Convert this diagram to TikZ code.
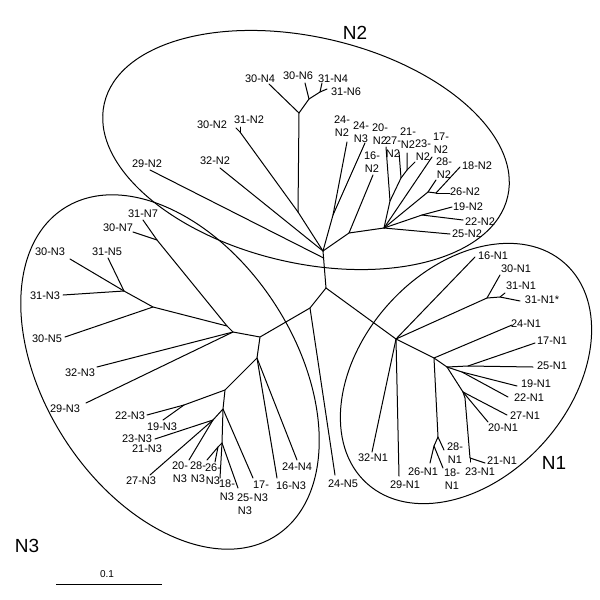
\documentclass[tikz,border=0pt]{standalone}
\usepackage{fontspec}
\setmainfont{Liberation Sans}
\begin{document}
\begin{tikzpicture}[x=1pt,y=-1pt,
  br/.style={line width=1pt, line cap=round, line join=round},
  grp/.style={line width=1pt},
  lab/.style={font=\fontsize{11}{13}\selectfont, inner sep=0pt, align=center},
  ttl/.style={font=\fontsize{19}{20}\selectfont, inner sep=0pt}]
\useasboundingbox (0,0) rectangle (600,600);
% ---------- group outlines ----------
\draw[grp, rotate around={-13:(306,150)}] (306,150) ellipse [x radius=207, y radius=113];
\draw[grp, rotate around={-57:(170,372)}] (170,372) ellipse [x radius=195, y radius=125];
\draw[grp, rotate around={48:(466,373.5)}] (466,373.5) ellipse [x radius=148, y radius=104];
\node[ttl] (tN2) at (355,33) {N2};
\node[ttl] (tN1) at (554,463) {N1};
\node[ttl] (tN3) at (27,546) {N3};
% ---------- coordinates ----------
\coordinate (C1) at (323,251);
\coordinate (C1b) at (323.6,258);
\coordinate (C2) at (326,288);
% N2 clade
\coordinate (X) at (298,212);
\coordinate (n31N2) at (240,132);
\coordinate (t30N2) at (236,128);
\coordinate (t31N2) at (240,127);
\coordinate (S4) at (299,113);
\coordinate (t30N4) at (269,84);
\coordinate (S6) at (309,99);
\coordinate (t30N6) at (305,83);
\coordinate (S7) at (320,92);
\coordinate (t31N4) at (322,83);
\coordinate (t31N6) at (327,89);
\coordinate (t32N2) at (220,168);
\coordinate (t29N2) at (150,170);
\coordinate (N24) at (333,215);
\coordinate (t24N2) at (347,142);
\coordinate (t24N3) at (365,143);
\coordinate (N16) at (349,233);
\coordinate (t16N2) at (373,175);
\coordinate (H2) at (384,228);
\coordinate (t25N2) at (450,234);
\coordinate (N1922) at (422,215);
\coordinate (t19N2) at (452,207);
\coordinate (t22N2) at (463,220);
\coordinate (t17N2) at (432,157);
\coordinate (NA) at (428,192);
\coordinate (t28N2) at (436,180);
\coordinate (NB) at (436,193);
\coordinate (t18N2) at (460,167);
\coordinate (t26N2) at (450,193);
\coordinate (K1) at (390,201);
\coordinate (t20N2) at (386,147);
\coordinate (K2) at (401,178);
\coordinate (t27N2) at (399,152);
\coordinate (K3) at (407,170);
\coordinate (t21N2) at (407,153);
\coordinate (t23N2) at (415,162);
% N3 clade
\coordinate (D) at (310,308);
\coordinate (t24N5) at (335,475);
\coordinate (E) at (260,337);
\coordinate (F) at (233,332);
\coordinate (F1) at (227,326);
\coordinate (N7) at (157,240);
\coordinate (t31N7) at (143,220);
\coordinate (t30N7) at (133,232);
\coordinate (N35) at (153,307);
\coordinate (t30N5) at (65,337);
\coordinate (N33) at (124,291);
\coordinate (t30N3) at (70,259);
\coordinate (t31N5) at (108,258);
\coordinate (t31N3) at (63,295);
\coordinate (t32N3) at (97,367);
\coordinate (t29N3) at (86,403);
\coordinate (G) at (257,358);
\coordinate (t16N3) at (277,478);
\coordinate (t24N4) at (297,460);
\coordinate (H) at (225,390);
\coordinate (I) at (184,405);
\coordinate (t22N3) at (147,415);
\coordinate (t19N3) at (163,420);
\coordinate (J) at (223,409);
\coordinate (t17N3) at (253,478);
\coordinate (L) at (213,420);
\coordinate (t2321N3) at (155,439);
\coordinate (t27N3) at (150,475);
\coordinate (t20N3) at (189,460);
\coordinate (M) at (222,443);
\coordinate (t18N3) at (220,478);
\coordinate (t25N3) at (238,488);
\coordinate (P) at (218,447);
\coordinate (t28N3) at (207,460);
\coordinate (t26N3) at (215,462);
% N1 clade
\coordinate (Q) at (396,339);
\coordinate (t16N1) at (475,257);
\coordinate (R) at (487,298);
\coordinate (t30N1) at (500,275);
\coordinate (S) at (500,297);
\coordinate (t31N1) at (505,293);
\coordinate (t31N1s) at (520,301);
\coordinate (t32N1) at (372,452);
\coordinate (t29N1) at (399,476);
\coordinate (T) at (434,358);
\coordinate (t24N1) at (512,325);
\coordinate (U) at (438,437);
\coordinate (t28N1) at (444,450);
\coordinate (V) at (434,446);
\coordinate (t26N1) at (430,463);
\coordinate (t18N1) at (443,468);
\coordinate (W) at (447,367);
\coordinate (W1) at (468,366);
\coordinate (t17N1) at (535,343);
\coordinate (t25N1) at (533,367);
\coordinate (W2) at (462,372);
\coordinate (t19N1) at (517,386);
\coordinate (t22N1) at (508,397);
\coordinate (X1) at (463,392);
\coordinate (t27N1) at (507,415);
\coordinate (t20N1) at (488,422);
\coordinate (Y) at (465,398);
\coordinate (Z) at (470,458);
\coordinate (t21N1) at (485,463);
\coordinate (t23N1) at (470,462);
% ---------- branches ----------
\draw[br] (C1) -- (C2);
\draw[br] (C1) -- (X) -- (n31N2) -- (t30N2);
\draw[br] (n31N2) -- (t31N2);
\draw[br] (X) -- (S4) -- (t30N4);
\draw[br] (S4) -- (S6) -- (t30N6);
\draw[br] (S6) -- (S7) -- (t31N6);
\draw[br] (S7) -- (t31N4);
\draw[br] (C1) -- (t32N2);
\draw[br] (C1b) -- (t29N2);
\draw[br] (C1) -- (N24) -- (t24N2);
\draw[br] (N24) -- (t24N3);
\draw[br] (C1) -- (N16) -- (t16N2);
\draw[br] (N16) -- (H2) -- (t25N2);
\draw[br] (H2) -- (N1922) -- (t19N2);
\draw[br] (N1922) -- (t22N2);
\draw[br] (H2) -- (t17N2);
\draw[br] (H2) -- (NA) -- (t28N2);
\draw[br] (NA) -- (NB) -- (t18N2);
\draw[br] (NB) -- (t26N2);
\draw[br] (H2) -- (K1) -- (t20N2);
\draw[br] (K1) -- (K2) -- (t27N2);
\draw[br] (K2) -- (K3) -- (t21N2);
\draw[br] (K3) -- (t23N2);
% N3
\draw[br] (C2) -- (D) -- (t24N5);
\draw[br] (D) -- (E) -- (F) -- (F1) -- (N7) -- (t31N7);
\draw[br] (N7) -- (t30N7);
\draw[br] (F1) -- (N35) -- (t30N5);
\draw[br] (N35) -- (N33) -- (t30N3);
\draw[br] (N33) -- (t31N5);
\draw[br] (N33) -- (t31N3);
\draw[br] (F) -- (t32N3);
\draw[br] (F) -- (t29N3);
\draw[br] (E) -- (G) -- (t16N3);
\draw[br] (G) -- (t24N4);
\draw[br] (G) -- (H) -- (I) -- (t22N3);
\draw[br] (I) -- (t19N3);
\draw[br] (H) -- (J) -- (t17N3);
\draw[br] (J) -- (L) -- (t2321N3);
\draw[br] (L) -- (t27N3);
\draw[br] (L) -- (t20N3);
\draw[br] (J) -- (M) -- (t18N3);
\draw[br] (M) -- (t25N3);
\draw[br] (M) -- (P) -- (t28N3);
\draw[br] (P) -- (t26N3);
% N1
\draw[br] (C2) -- (Q) -- (t16N1);
\draw[br] (Q) -- (R) -- (t30N1);
\draw[br] (R) -- (S) -- (t31N1s);
\draw[br] (S) -- (t31N1);
\draw[br] (Q) -- (t32N1);
\draw[br] (Q) -- (t29N1);
\draw[br] (Q) -- (T) -- (t24N1);
\draw[br] (T) -- (U) -- (t28N1);
\draw[br] (U) -- (V) -- (t26N1);
\draw[br] (V) -- (t18N1);
\draw[br] (T) -- (W) -- (W1) -- (t25N1);
\draw[br] (W1) -- (t17N1);
\draw[br] (W) -- (W2) -- (t19N1);
\draw[br] (W2) -- (t22N1);
\draw[br] (W) -- (X1) -- (t27N1);
\draw[br] (X1) -- (t20N1);
\draw[br] (X1) -- (Y) -- (Z) -- (t21N1);
\draw[br] (Z) -- (t23N1);
% ---------- labels ----------
\node[lab] (l30N4) at (260,79) {30-N4};
\node[lab] (l30N6) at (298,76) {30-N6};
\node[lab] (l31N4) at (333,79) {31-N4};
\node[lab] (l31N6) at (346,92) {31-N6};
\node[lab] (l30N2) at (212,125) {30-N2};
\node[lab] (l31N2) at (249,120) {31-N2};
\node[lab] (l32N2) at (215,161) {32-N2};
\node[lab] (l29N2) at (147,164) {29-N2};
\node[lab] (l24N2) at (342,126) {24-\\N2};
\node[lab] (l24N3) at (361,132.5) {24-\\N3};
\node[lab] (l20N2) at (380,134.5) {20-\\N2};
\node[lab] (l27N2) at (393,147) {27-\\N2};
\node[lab] (l16N2) at (372,162.5) {16-\\N2};
\node[lab] (l21N2) at (408,138.5) {21-\\N2};
\node[lab] (l23N2) at (423,150.5) {23-\\N2};
\node[lab] (l17N2) at (441,143) {17-\\N2};
\node[lab] (l28N2) at (444,168.5) {28-\\N2};
\node[lab] (l18N2) at (477,166) {18-N2};
\node[lab] (l26N2) at (465,192) {26-N2};
\node[lab] (l19N2) at (468,207) {19-N2};
\node[lab] (l22N2) at (480,222) {22-N2};
\node[lab] (l25N2) at (467,234) {25-N2};
% N3
\node[lab] (l31N7) at (143,214) {31-N7};
\node[lab] (l30N7) at (118,228) {30-N7};
\node[lab] (l30N3) at (50,252) {30-N3};
\node[lab] (l31N5) at (107,252) {31-N5};
\node[lab] (l31N3) at (45,296) {31-N3};
\node[lab] (l30N5) at (47,339) {30-N5};
\node[lab] (l32N3) at (80,373) {32-N3};
\node[lab] (l29N3) at (65,409) {29-N3};
\node[lab] (l22N3) at (130,416) {22-N3};
\node[lab] (l19N3) at (162,427) {19-N3};
\node[lab] (l23N3) at (137,438.5) {23-N3};
\node[lab] (l21N3) at (147,448.5) {21-N3};
\node[lab] (l27N3) at (141,481) {27-N3};
\node[lab] (l20N3) at (180,472.5) {20-\\N3};
\node[lab] (l28N3) at (198,472.5) {28-\\N3};
\node[lab] (l26N3) at (213,474) {26-\\N3};
\node[lab] (l18N3) at (227,490) {18-\\N3};
\node[lab] (l25N3) at (245,504) {25-\\N3};
\node[lab] (l17N3) at (261,491.5) {17-\\N3};
\node[lab] (l16N3) at (291,486) {16-N3};
\node[lab] (l24N4) at (297,467) {24-N4};
\node[lab] (l24N5) at (343,484) {24-N5};
% N1
\node[lab] (l16N1) at (493,256) {16-N1};
\node[lab] (l30N1) at (516,269) {30-N1};
\node[lab] (l31N1) at (521,286) {31-N1};
\node[lab] (l31N1s) at (542,300) {31-N1*};
\node[lab] (l24N1) at (526,324) {24-N1};
\node[lab] (l17N1) at (552,341) {17-N1};
\node[lab] (l25N1) at (552,366) {25-N1};
\node[lab] (l19N1) at (536,384) {19-N1};
\node[lab] (l22N1) at (529,398) {22-N1};
\node[lab] (l27N1) at (525,416) {27-N1};
\node[lab] (l20N1) at (503,428) {20-N1};
\node[lab] (l21N1) at (502,461) {21-N1};
\node[lab] (l23N1) at (480,472) {23-N1};
\node[lab] (l28N1) at (455,453.5) {28-\\N1};
\node[lab] (l26N1) at (423,472) {26-N1};
\node[lab] (l18N1) at (452,479) {18-\\N1};
\node[lab] (l32N1) at (373,458) {32-N1};
\node[lab] (l29N1) at (405,485) {29-N1};
% ---------- scale bar ----------
\coordinate (sb1) at (56,584);
\coordinate (sb2) at (162,584);
\draw[line width=1pt] (sb1) -- (sb2);
\node[lab, font=\fontsize{10}{12}\selectfont] (sbl) at (107,574) {0.1};
\end{tikzpicture}
\end{document}
